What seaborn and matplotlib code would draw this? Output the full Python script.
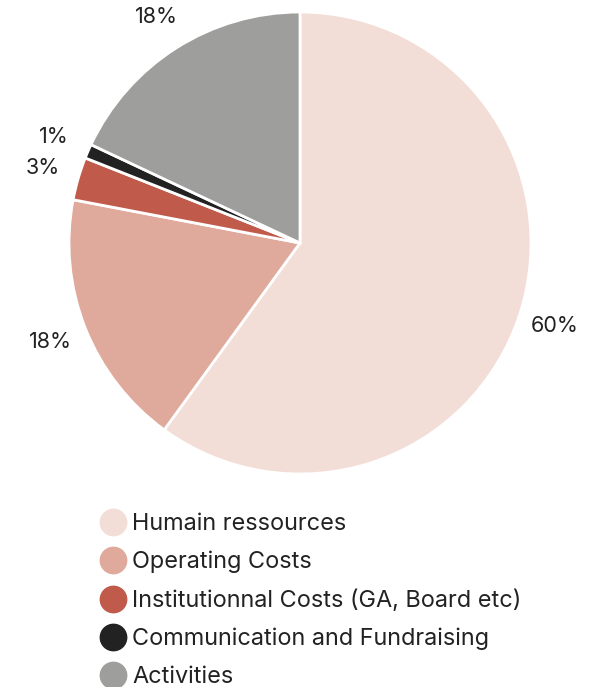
import matplotlib
matplotlib.use("Agg")
import matplotlib.pyplot as plt
from matplotlib.lines import Line2D
import seaborn as sns

categories = ["Humain ressources", "Operating Costs", "Institutionnal Costs (GA, Board etc)",
              "Communication and Fundraising", "Activities"]
values = [60, 18, 3, 1, 18]
colors = ["#F3DDD7", "#DFAA9C", "#C05A4B", "#222222", "#9E9E9C"]

sns.set_theme(style="white")
plt.rcParams['font.family'] = ['Inter', 'DejaVu Sans']

W, H = 589, 687
fig = plt.figure(figsize=(W / 100, H / 100), dpi=100)
cx, cy, r = 300, 243, 231
ax = fig.add_axes([(cx - r) / W, (H - cy - r) / H, 2 * r / W, 2 * r / H])

wedges, texts = ax.pie(values, colors=colors, startangle=90, counterclock=False,
                       labels=[f"{v}%" for v in values], labeldistance=1.16,
                       wedgeprops=dict(edgecolor="white", linewidth=2),
                       textprops=dict(fontsize=15.5, color="#222222"))
for t in texts:
    t.set_ha("center")
    t.set_va("center")
ax.set_xlim(-1, 1)
ax.set_ylim(-1, 1)
ax.set_aspect("equal")
ax.axis("off")

handles = [Line2D([0], [0], marker="o", linestyle="none", markersize=19,
                  markerfacecolor=c, markeredgecolor=c) for c in colors]
fig.legend(handles, categories, loc="upper left", bbox_to_anchor=(99 / W, 1 - 513 / H),
           frameon=False, fontsize=16.9, handletextpad=0.25, labelspacing=0.68,
           borderpad=0, borderaxespad=0, handlelength=1.17, labelcolor="#222222")

fig.savefig("out.png", dpi=100)
